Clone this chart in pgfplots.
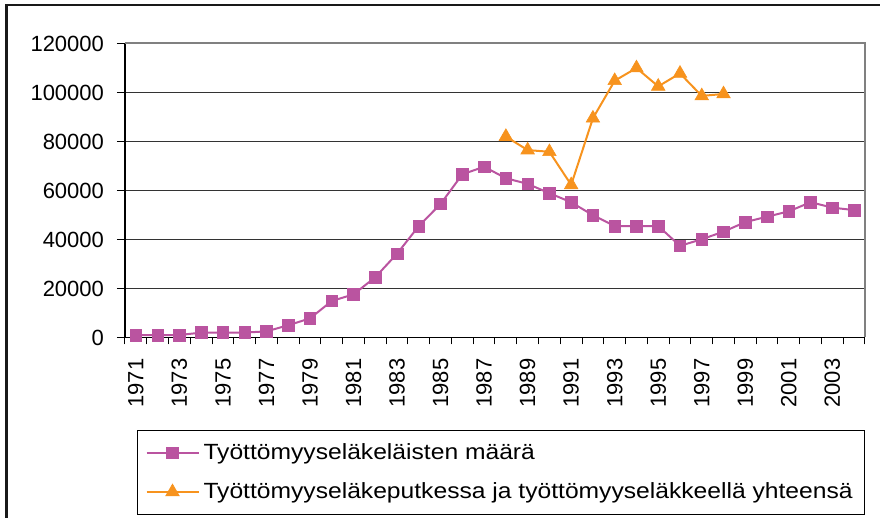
\documentclass[border=0pt]{standalone}
\usepackage{pgfplots}
\pgfplotsset{compat=1.18}
\usepackage{fontspec}
\setmainfont{Liberation Sans}
\newfontfamily\legfont[FakeStretch=1.12]{Liberation Sans}
\definecolor{plum}{RGB}{186,84,160}
\definecolor{orng}{RGB}{247,147,30}
\begin{document}
\begin{tikzpicture}
\path[use as bounding box] (0,0) rectangle (440pt,259pt);
\draw[line width=1.3pt, color=black!90] (3.35pt,0) -- (3.35pt,256.5pt) -- (440pt,256.5pt);
\begin{axis}[
  at={(62.5pt,90.25pt)}, anchor=south west,
  scale only axis, width=370pt, height=147pt,
  xmin=-0.5, xmax=33.5, ymin=0, ymax=120000,
  axis lines*=left,
  axis line style={black, line width=0.6pt},
  xtick={0,2,...,32},
  xticklabels={1971,1973,1975,1977,1979,1981,1983,1985,1987,1989,1991,1993,1995,1997,1999,2001,2003},
  minor xtick={-0.5,0.5,...,33.5},
  major x tick style={draw=none},
  minor x tick style={black, line width=0.5pt},
  minor tick length=3.5pt,
  ytick={0,20000,...,120000},
  major tick length=4pt,
  tick align=outside,
  y tick style={black, line width=0.5pt},
  ymajorgrids,
  major grid style={black!80, line width=0.5pt},
  scaled y ticks=false,
  /pgf/number format/fixed,
  /pgf/number format/1000 sep={},
  /pgf/number format/assume math mode=true,
  tick label style={font=\fontsize{11}{13}\selectfont, black},
  xticklabel style={rotate=90, anchor=east},
  xticklabel shift=3pt,
  yticklabel shift=3pt,
  clip=false,
  legend style={at={(0.01622,-0.3146)}, anchor=north west, draw=black, line width=0.5pt,
    font=\legfont\fontsize{11}{13}\selectfont, inner xsep=4pt, inner ysep=4.5pt,
    row sep=6pt},
  legend cell align=left,
  legend image code/.code={\draw[mark repeat=2,mark phase=2,#1] plot coordinates {(0pt,0pt)(13pt,0pt)(26pt,0pt)};},
]
\draw[black!50, line width=1pt] (rel axis cs:0,1) -- (rel axis cs:1,1) -- (rel axis cs:1,0);
\addplot[plum, line width=1pt, mark=square*, mark size=2.9pt, mark options={fill=plum, draw=plum, line width=0.3pt}] coordinates {
(0,1000)(1,1000)(2,1000)(3,2000)(4,2000)(5,2000)(6,2500)(7,5000)(8,7800)(9,14900)
(10,17600)(11,24600)(12,34200)(13,45500)(14,54500)(15,66600)(16,69700)(17,65000)(18,62700)(19,58900)
(20,55200)(21,49900)(22,45500)(23,45500)(24,45500)(25,37400)(26,40100)(27,43200)(28,47100)(29,49300)
(30,51500)(31,55200)(32,53000)(33,52000)};
\addlegendentry{Työttömyyseläkeläisten määrä}
\addplot[orng, line width=1pt, mark=triangle*, mark size=3.9pt, mark options={fill=orng, draw=orng, line width=0.3pt}] coordinates {
(17,82000)(18,76500)(19,75800)(20,62300)(21,89500)(22,104800)(23,110000)(24,102500)(25,107800)(26,98600)(27,99400)};
\addlegendentry{Työttömyyseläkeputkessa ja työttömyyseläkkeellä yhteensä}
\end{axis}
\end{tikzpicture}
\end{document}
